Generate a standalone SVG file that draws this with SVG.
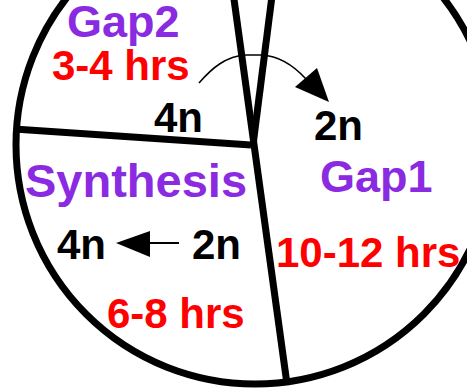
<svg xmlns="http://www.w3.org/2000/svg" width="467" height="392" viewBox="0 0 467 392">
<style>
.t{font-family:"Liberation Sans",Arial,sans-serif;font-weight:bold;}
.p{fill:#8A2BE2;font-size:45px;}
.r{fill:#FF0000;font-size:42px;}
.k{fill:#000;font-size:42px;}
.w{stroke:#000;stroke-width:7;fill:none;}
</style>
<rect width="467" height="392" fill="#fff"/>
<g id="cycle">
<circle cx="255" cy="145" r="239" fill="#fff" stroke="#000" stroke-width="7"/>
<line class="w" x1="233" y1="-8" x2="287" y2="384"/>
<line class="w" x1="272.5" y1="-8" x2="253" y2="145"/>
<line class="w" x1="14" y1="129" x2="251" y2="145"/>
</g>
<g id="gap2">
<text class="t p" x="67" y="37">Gap2</text>
<text class="t r" x="52" y="80">3-4 hrs</text>
<text class="t k" x="154" y="132">4n</text>
</g>
<g id="gap1">
<text class="t k" x="314" y="140">2n</text>
<text class="t p" x="320" y="192">Gap1</text>
<text class="t r" x="276" y="267">10-12 hrs</text>
</g>
<g id="synthesis">
<text class="t p" x="25" y="197" style="font-size:47px">Synthesis</text>
<text class="t k" x="57" y="259">4n</text>
<text class="t k" x="192" y="259">2n</text>
<text class="t r" x="107" y="328">6-8 hrs</text>
</g>
<g id="connectors">
<path d="M199,83 C212,68 226,56 246,55 L262,55 C280,56 294,66 306,79" fill="none" stroke="#000" stroke-width="1.5"/>
<polygon points="295,87 317,68 329,102" fill="#000"/>
<line x1="179" y1="243" x2="148" y2="243" stroke="#000" stroke-width="2"/>
<polygon points="116,243 150,231 150,257" fill="#000"/>
</g>
</svg>
